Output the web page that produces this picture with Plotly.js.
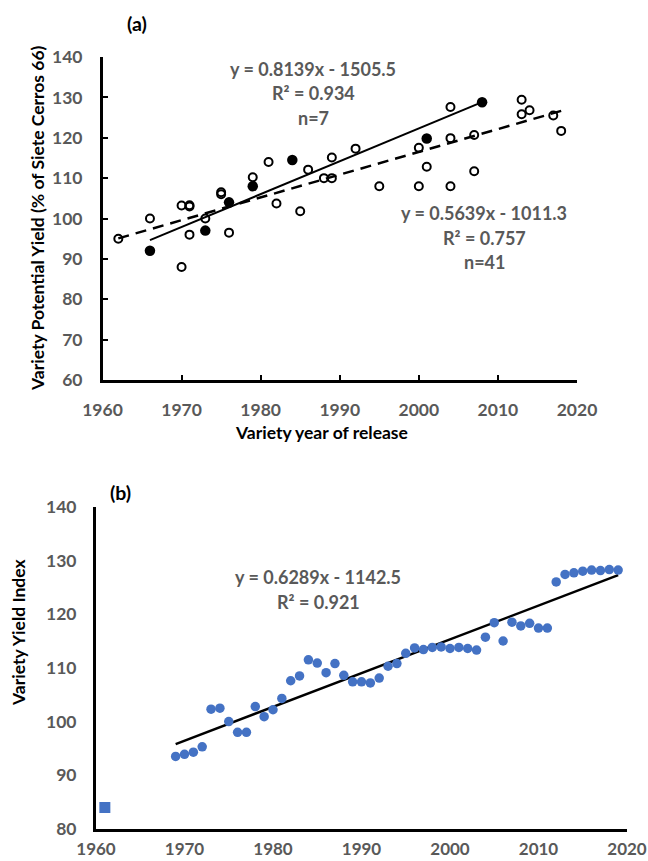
<!DOCTYPE html>
<html>
<head>
<meta charset="utf-8">
<script src="https://cdn.plot.ly/plotly-3.0.1.min.js"></script>
<style>html,body{margin:0;padding:0;background:#fff;}#chart{width:648px;height:861px;}</style>
</head>
<body>
<div id="chart"></div>
<script>
// ---- Panel (a): variety potential yield (% of Siete Cerros 66) ----
const yearsOpen = [1962, 1966, 1970, 1970, 1971, 1971, 1971, 1973, 1975, 1975, 1976, 1979, 1981, 1982,
  1985, 1986, 1988, 1989, 1989, 1992, 1995, 2000, 2000, 2001, 2004, 2004, 2004, 2007, 2007,
  2013, 2013, 2014, 2017, 2018];
const yieldOpen = [95.0, 100.0, 88.0, 103.2, 103.3, 103.0, 96.0, 100.0, 106.5, 106.0, 96.5, 110.2, 114.0, 103.7,
  101.8, 112.1, 110.0, 110.0, 115.1, 117.3, 108.0, 117.5, 108.0, 112.8, 127.6, 119.9, 108.0, 120.7, 111.7,
  129.4, 125.8, 126.8, 125.5, 121.7];
const yearsFilled = [1966, 1973, 1976, 1979, 1984, 2001, 2008];
const yieldFilled = [92.0, 97.0, 104.0, 108.0, 114.5, 119.8, 128.8];

// fitted trendlines (coefficients as printed on the chart)
const fitAllSlope = 0.5639, fitAllIntercept = -1011.3, fitAllYears = [1962, 2018];
const fitSelSlope = 0.8139, fitSelIntercept = -1505.5, fitSelYears = [1966, 2008];

// ---- Panel (b): variety yield index ----
const yearsB = [1969, 1970, 1971, 1972, 1973, 1974, 1975, 1976, 1977, 1978, 1979, 1980, 1981, 1982, 1983,
  1984, 1985, 1986, 1987, 1988, 1989, 1990, 1991, 1992, 1993, 1994, 1995, 1996, 1997, 1998, 1999,
  2000, 2001, 2002, 2003, 2004, 2005, 2006, 2007, 2008, 2009, 2010, 2011, 2012, 2013, 2014, 2015,
  2016, 2017, 2018, 2019];
const indexB = [93.5, 93.9, 94.3, 95.3, 102.3, 102.5, 100.0, 98.0, 98.0, 102.8, 100.9, 102.2, 104.3, 107.6, 108.5,
  111.5, 110.9, 109.1, 110.8, 108.6, 107.4, 107.4, 107.2, 108.1, 110.3, 110.8, 112.7, 113.7, 113.4, 113.8, 113.9,
  113.6, 113.8, 113.6, 113.3, 115.7, 118.4, 115.0, 118.5, 117.8, 118.3, 117.4, 117.4, 126.0, 127.4, 127.7, 128.0,
  128.2, 128.1, 128.3, 128.2];
const checkYear = [1961];
const checkIndex = [84.0];
const fitBSlope = 0.6289, fitBIntercept = -1142.5, fitBYears = [1969, 2019];

const xTicks = [1960, 1970, 1980, 1990, 2000, 2010, 2020];

const W = 648, H = 861;
const px = x => x / W;
const py = y => 1 - y / H;
const FONT = "Lato, 'Open Sans', sans-serif";
const GRAY = '#595959';

const line = (yrs, s, b) => yrs.map(v => s * v + b);

const traces = [
  {x: fitAllYears, y: line(fitAllYears, fitAllSlope, fitAllIntercept), xaxis: 'x', yaxis: 'y', mode: 'lines',
   line: {color: '#000', width: 2.5, dash: '11px,7px'}, hoverinfo: 'skip'},
  {x: fitSelYears, y: line(fitSelYears, fitSelSlope, fitSelIntercept), xaxis: 'x', yaxis: 'y', mode: 'lines',
   line: {color: '#000', width: 2}, hoverinfo: 'skip'},
  {x: yearsOpen, y: yieldOpen, xaxis: 'x', yaxis: 'y', mode: 'markers',
   marker: {symbol: 'circle-open', size: 8, color: '#000', line: {width: 2, color: '#000'}}},
  {x: yearsFilled, y: yieldFilled, xaxis: 'x', yaxis: 'y', mode: 'markers',
   marker: {symbol: 'circle', size: 10.5, color: '#000'}},
  {x: fitBYears, y: line(fitBYears, fitBSlope, fitBIntercept), xaxis: 'x2', yaxis: 'y2', mode: 'lines',
   line: {color: '#000', width: 2.5}, hoverinfo: 'skip'},
  {x: yearsB, y: indexB, xaxis: 'x2', yaxis: 'y2', mode: 'markers',
   marker: {symbol: 'circle', size: 9.5, color: '#4472C4'}},
  {x: checkYear, y: checkIndex, xaxis: 'x2', yaxis: 'y2', mode: 'markers',
   marker: {symbol: 'square', size: 11, color: '#4472C4'}}
];

const tickFont = {family: FONT, size: 17.5, color: GRAY, weight: 700};

const axBase = {
  showgrid: false, zeroline: false, showline: true, linecolor: '#000', linewidth: 2.5,
  tickfont: tickFont, fixedrange: true
};

const layout = {
  width: W, height: H, showlegend: false,
  margin: {l: 0, r: 0, t: 0, b: 0},
  paper_bgcolor: '#fff', plot_bgcolor: '#fff',
  xaxis: Object.assign({}, axBase, {domain: [px(102.5), px(577)], range: [1960, 2020], tickvals: xTicks,
    ticks: 'inside', ticklen: 5, tickwidth: 2, tickcolor: '#000', ticklabelstandoff: 12, anchor: 'y'}),
  yaxis: Object.assign({}, axBase, {domain: [py(380), py(57)], range: [60, 140], dtick: 10, tick0: 60,
    ticks: 'inside', ticklen: 5, tickwidth: 2, tickcolor: '#000', ticklabelstandoff: 14, anchor: 'x'}),
  xaxis2: Object.assign({}, axBase, {domain: [px(96), px(627)], range: [1960, 2020], tickvals: xTicks,
    ticks: '', ticklabelstandoff: 3, anchor: 'y2', linewidth: 3,
    tickfont: {family: FONT, size: 17, color: GRAY, weight: 700}}),
  yaxis2: Object.assign({}, axBase, {domain: [py(829), py(506.7)], range: [80, 140], dtick: 10, tick0: 80,
    ticks: '', ticklabelstandoff: 13, anchor: 'x2', linewidth: 3}),
  annotations: []
};

function ann(text, x, y, opts) {
  layout.annotations.push(Object.assign({
    text: text, x: px(x), y: py(y), xref: 'paper', yref: 'paper', showarrow: false,
    xanchor: 'center', yanchor: 'middle',
    font: {family: FONT, size: 18, color: GRAY, weight: 700}
  }, opts || {}));
}

const blackFont = {family: FONT, size: 17.5, color: '#000', weight: 700};
ann('(a)', 137, 23, {font: {family: FONT, size: 19.5, color: '#000', weight: 700}});
ann('(b)', 120, 493, {font: {family: FONT, size: 19.5, color: '#000', weight: 700}});
ann('y = 0.8139x - 1505.5', 313, 69);
ann('R² = 0.934', 313, 93);
ann('n=7', 313, 118);
ann('y = 0.5639x - 1011.3', 484, 213);
ann('R² = 0.757', 484, 238);
ann('n=41', 484, 262);
ann('y = 0.6289x - 1142.5', 318, 577);
ann('R² = 0.921', 318, 602);
ann('Variety Potential Yield (% of Siete Cerros 66)', 38, 218, {textangle: -90, font: blackFont});
ann('Variety year of release', 321, 432, {font: blackFont});
ann('Variety Yield Index', 18, 632, {textangle: -90, font: blackFont});

Plotly.newPlot('chart', traces, layout, {staticPlot: true, displayModeBar: false});
</script>
</body>
</html>
